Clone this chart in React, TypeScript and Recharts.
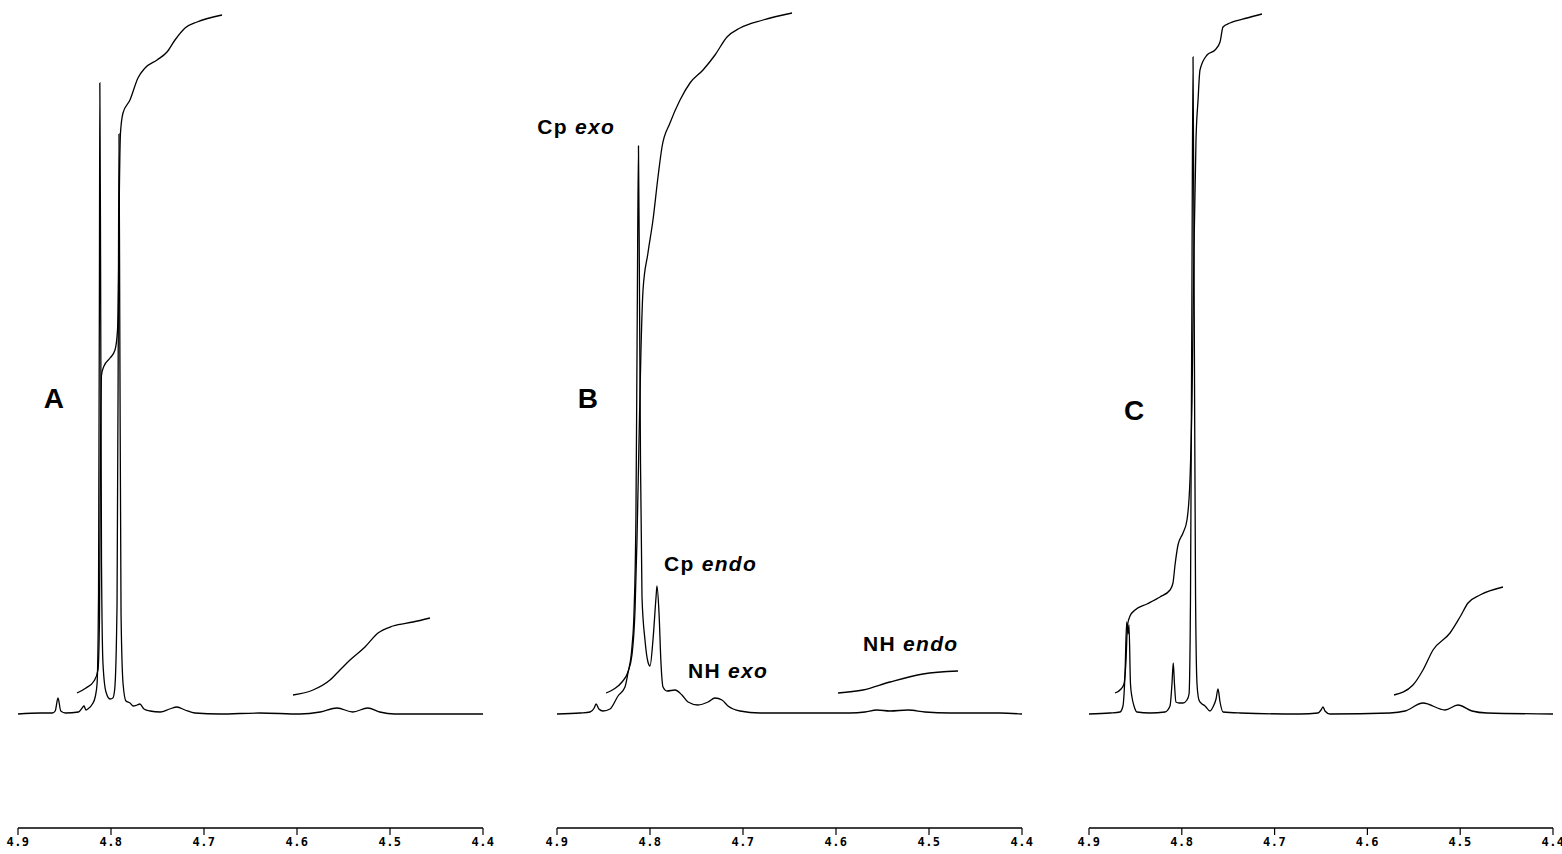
import React from 'react';
import { LineChart, Line, XAxis, YAxis, ReferenceDot } from 'recharts';

// ---- axis ticks (ppm) ----
const PPM_TICKS = [4.9, 4.8, 4.7, 4.6, 4.5, 4.4];

// ---- Spectrum A : [ppm, intensity] ----
const SPEC_A: [number, number][] = [
  [4.9, 0], [4.876, 1], [4.863, 1], [4.86, 3], [4.857, 16], [4.854, 3], [4.849, 1],
  [4.835, 2], [4.831, 6], [4.829, 8], [4.827, 4], [4.825, 5], [4.82, 10], [4.817, 17],
  [4.815, 30], [4.8134, 120], [4.8124, 450], [4.812, 631], [4.8112, 450], [4.8102, 150],
  [4.8086, 50], [4.8054, 22], [4.801, 15], [4.798, 16], [4.796, 25], [4.7935, 110],
  [4.7921, 400], [4.7914, 580], [4.7906, 400], [4.7892, 100], [4.787, 30], [4.7839, 13],
  [4.7796, 11], [4.776, 8], [4.772, 9], [4.769, 10], [4.7645, 5], [4.758, 3], [4.747, 2],
  [4.737, 5], [4.729, 7], [4.7204, 4], [4.7097, 1], [4.683, 0], [4.64, 1], [4.597, 0],
  [4.575, 2], [4.557, 6], [4.54, 2], [4.524, 6], [4.511, 2], [4.495, 0], [4.4, 0],
];
const INT_A1: [number, number][] = [
  [4.8366, 21], [4.8269, 26], [4.8183, 33], [4.814, 44], [4.8124, 94], [4.8113, 264],
  [4.8102, 339], [4.8075, 348], [4.801, 356], [4.7957, 364], [4.793, 384], [4.7919, 434],
  [4.7911, 514], [4.7898, 581], [4.7871, 601], [4.7796, 614], [4.771, 636], [4.7634, 646],
  [4.7505, 654], [4.7398, 662], [4.7312, 674], [4.7204, 686], [4.7075, 692], [4.6806, 699],
];
const INT_A2: [number, number][] = [
  [4.6043, 19], [4.5828, 24], [4.5645, 34], [4.5538, 44], [4.543, 54], [4.5269, 67],
  [4.5129, 81], [4.4968, 88], [4.4753, 92], [4.457, 96],
];

// ---- Spectrum B ----
const SPEC_B: [number, number][] = [
  [4.9, 0], [4.875, 1], [4.8645, 2], [4.86, 6], [4.858, 10], [4.855, 5], [4.8505, 3],
  [4.843, 5], [4.8344, 18], [4.8269, 27], [4.8237, 41], [4.8194, 67], [4.8172, 101],
  [4.8151, 200], [4.8137, 400], [4.8124, 568], [4.8113, 420], [4.8102, 250], [4.8086, 117],
  [4.8054, 74], [4.8022, 52], [4.8, 48], [4.7968, 74], [4.7935, 117], [4.7925, 128],
  [4.7903, 101], [4.7882, 51], [4.786, 27], [4.7817, 23], [4.7731, 24], [4.7656, 19],
  [4.7591, 12], [4.7484, 9], [4.7376, 12], [4.7301, 16], [4.7226, 14], [4.7161, 8],
  [4.7032, 3], [4.6817, 1], [4.6387, 1], [4.585, 1], [4.5688, 2], [4.556, 4], [4.542, 3],
  [4.5226, 4], [4.5043, 2], [4.4774, 1], [4.4237, 1], [4.4, 0],
];
const INT_B1: [number, number][] = [
  [4.8473, 21], [4.8387, 25], [4.8301, 32], [4.8237, 42], [4.8194, 59], [4.8161, 104],
  [4.814, 174], [4.8118, 274], [4.8097, 364], [4.8075, 424], [4.8022, 461], [4.7968, 494],
  [4.7914, 537], [4.7871, 567], [4.7785, 591], [4.7677, 614], [4.757, 631], [4.743, 644],
  [4.7301, 659], [4.7172, 677], [4.7032, 686], [4.6785, 694], [4.6473, 701],
];
const INT_B2: [number, number][] = [
  [4.5978, 21], [4.571, 24], [4.5419, 32], [4.5065, 40], [4.4688, 43],
];

// ---- Spectrum C ----
const SPEC_C: [number, number][] = [
  [4.9, 0], [4.8774, 1], [4.8666, 2], [4.8634, 8], [4.8612, 40], [4.8594, 92], [4.858, 80],
  [4.8569, 89], [4.8553, 30], [4.8537, 17], [4.8515, 8], [4.8483, 2], [4.8343, 1],
  [4.8181, 2], [4.8127, 8], [4.8106, 30], [4.8092, 51], [4.8079, 30], [4.8063, 12],
  [4.803, 11], [4.7987, 11], [4.7944, 14], [4.7922, 20], [4.7906, 120], [4.7892, 400],
  [4.7879, 657], [4.7866, 400], [4.7852, 120], [4.7836, 30], [4.7815, 14], [4.7793, 11],
  [4.775, 8], [4.7696, 3], [4.7664, 7], [4.7631, 15], [4.761, 25], [4.7588, 12],
  [4.7556, 2], [4.7373, 1], [4.6726, 0], [4.6532, 1], [4.65, 4], [4.6478, 7], [4.6457, 3],
  [4.6403, 0], [4.5756, 1], [4.5595, 3], [4.5401, 11], [4.5164, 4], [4.5024, 9],
  [4.4873, 3], [4.4711, 1], [4.4, 0],
];
const INT_C1: [number, number][] = [
  [4.872, 21], [4.8655, 25], [4.8623, 30], [4.8601, 54], [4.8585, 89], [4.8558, 98],
  [4.8504, 104], [4.8375, 110], [4.8235, 117], [4.8127, 124], [4.8095, 131], [4.8073, 149],
  [4.8041, 169], [4.7987, 181], [4.7944, 194], [4.7912, 234], [4.789, 314], [4.7869, 464],
  [4.7847, 574], [4.7825, 614], [4.7804, 644], [4.7728, 659], [4.7642, 664], [4.7588, 672],
  [4.7556, 687], [4.7481, 691], [4.7297, 696], [4.7136, 700],
];
const INT_C2: [number, number][] = [
  [4.5713, 19], [4.5509, 29], [4.5401, 44], [4.5293, 64], [4.511, 81], [4.5002, 97],
  [4.4916, 111], [4.4787, 119], [4.4539, 127],
];

// ---- annotations ----
type Ann = { ppm: number; h: number; normal: string; italic: string; anchor: 'start' | 'middle' | 'end'; size: number };
const ANN_A: Ann[] = [{ ppm: 4.8613, h: 306, normal: 'A', italic: '', anchor: 'middle', size: 28 }];
const ANN_B: Ann[] = [
  { ppm: 4.8667, h: 306, normal: 'B', italic: '', anchor: 'middle', size: 28 },
  { ppm: 4.8376, h: 580, normal: 'Cp ', italic: 'exo', anchor: 'end', size: 21 },
  { ppm: 4.785, h: 143, normal: 'Cp ', italic: 'endo', anchor: 'start', size: 21 },
  { ppm: 4.7591, h: 36, normal: 'NH ', italic: 'exo', anchor: 'start', size: 21 },
  { ppm: 4.571, h: 63, normal: 'NH ', italic: 'endo', anchor: 'start', size: 21 },
];
const ANN_C: Ann[] = [{ ppm: 4.8515, h: 294, normal: 'C', italic: '', anchor: 'middle', size: 28 }];

const toRows = (arr: [number, number][]) => arr.map(([ppm, v]) => ({ ppm, v }));

type PanelProps = {
  left: number;
  width: number;
  mLeft: number;
  mRight: number;
  spec: [number, number][];
  ints: [number, number][][];
  anns: Ann[];
};

const Panel = ({ left, width, mLeft, mRight, spec, ints, anns }: PanelProps) => (
  <div style={{ position: 'absolute', left, top: 0 }}>
    <LineChart width={width} height={854} margin={{ top: 10, right: mRight, bottom: 6, left: mLeft }}>
      <XAxis
        type="number"
        dataKey="ppm"
        domain={[4.4, 4.9]}
        reversed
        allowDataOverflow
        ticks={PPM_TICKS}
        tickFormatter={(t: number) => t.toFixed(1)}
        height={20}
        tickSize={7}
        interval={0}
        axisLine={{ stroke: '#000', strokeWidth: 1.5 }}
        tickLine={{ stroke: '#000', strokeWidth: 1.2 }}
        tick={{ fontSize: 12, fontFamily: 'DejaVu Sans Mono', fontWeight: 'bold', fill: '#000', letterSpacing: 0.5 }}
      />
      <YAxis hide type="number" domain={[-114, 704]} allowDataOverflow />
      <Line
        data={toRows(spec)}
        dataKey="v"
        type="monotoneX"
        stroke="#000"
        strokeWidth={1.3}
        dot={false}
        isAnimationActive={false}
      />
      {ints.map((arr, i) => (
        <Line
          key={i}
          data={toRows(arr)}
          dataKey="v"
          type="monotoneX"
          stroke="#000"
          strokeWidth={1.3}
          dot={false}
          isAnimationActive={false}
        />
      ))}
      {anns.map((a, i) => (
        <ReferenceDot
          key={'a' + i}
          x={a.ppm}
          y={a.h}
          r={0}
          ifOverflow="visible"
          shape={(p: any) => (
            <text
              x={p.cx}
              y={p.cy}
              textAnchor={a.anchor}
              fontFamily="'Liberation Sans', Arial, sans-serif"
              fontWeight="bold"
              fontSize={a.size}
              letterSpacing={a.size < 24 ? 1.3 : 0}
              fill="#000"
              style={{ whiteSpace: 'pre' }}
            >
              <tspan>{a.normal}</tspan>
              {a.italic ? <tspan fontStyle="italic">{a.italic}</tspan> : null}
            </text>
          )}
        />
      ))}
    </LineChart>
  </div>
);

export default function App() {
  return (
    <div style={{ position: 'absolute', left: 0, top: 0, width: 1562, height: 854, background: '#fff', overflow: 'hidden' }}>
      <Panel left={0} width={500} mLeft={18} mRight={17} spec={SPEC_A} ints={[INT_A1, INT_A2]} anns={ANN_A} />
      <Panel left={510} width={530} mLeft={47} mRight={18} spec={SPEC_B} ints={[INT_B1, INT_B2]} anns={ANN_B} />
      <Panel left={1070} width={492} mLeft={19} mRight={9} spec={SPEC_C} ints={[INT_C1, INT_C2]} anns={ANN_C} />
    </div>
  );
}
